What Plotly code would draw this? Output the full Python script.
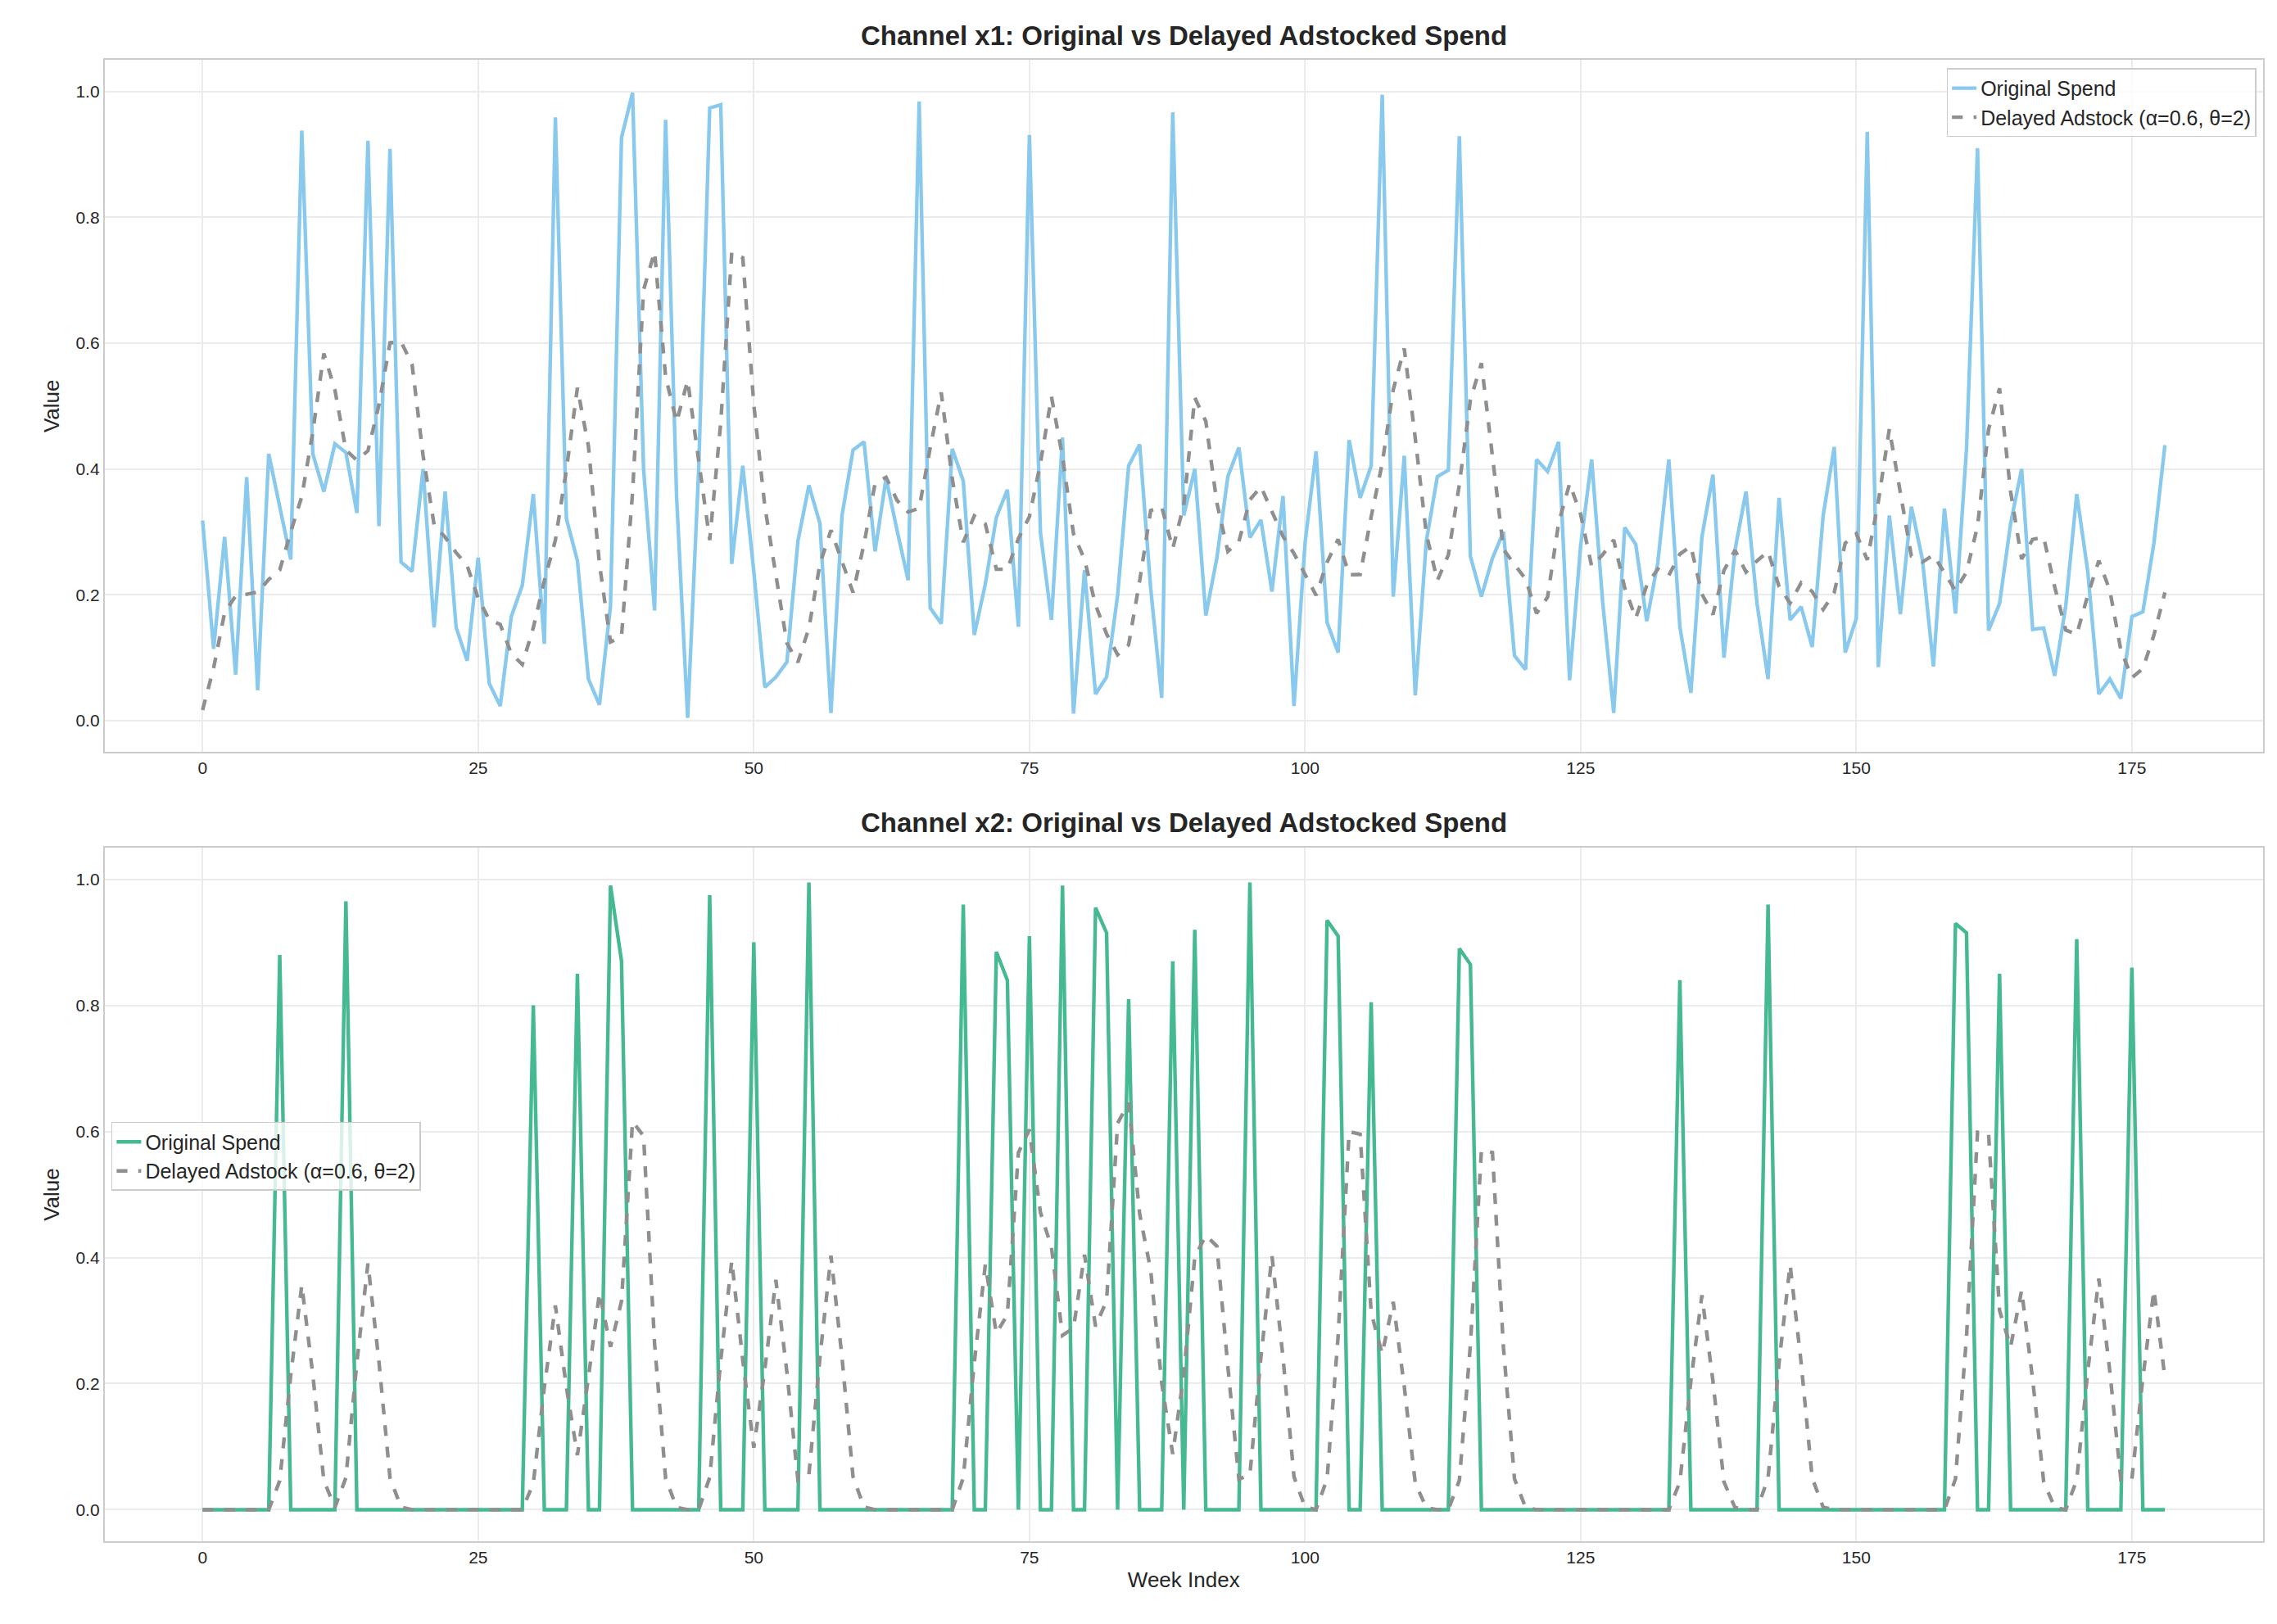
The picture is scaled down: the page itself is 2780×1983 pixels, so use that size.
import numpy as np
import plotly.graph_objects as go

## data ----
weeks = list(range(179))

x1_spend = [
    0.318, 0.114, 0.292, 0.073, 0.387, 0.048, 0.424, 0.340, 0.256, 0.938,
    0.424, 0.364, 0.440, 0.426, 0.330, 0.922, 0.309, 0.909, 0.252, 0.237,
    0.400, 0.148, 0.364, 0.148, 0.095, 0.259, 0.059, 0.023, 0.165, 0.215,
    0.360, 0.122, 0.959, 0.321, 0.254, 0.066, 0.025, 0.182, 0.927, 0.998,
    0.400, 0.175, 0.955, 0.354, 0.004, 0.400, 0.974, 0.979, 0.249, 0.405,
    0.237, 0.053, 0.069, 0.093, 0.285, 0.374, 0.313, 0.012, 0.326, 0.430,
    0.443, 0.269, 0.385, 0.302, 0.223, 0.984, 0.179, 0.154, 0.432, 0.381,
    0.136, 0.217, 0.323, 0.367, 0.149, 0.931, 0.299, 0.160, 0.450, 0.011,
    0.239, 0.042, 0.069, 0.199, 0.405, 0.439, 0.210, 0.036, 0.967, 0.326,
    0.400, 0.167, 0.258, 0.388, 0.434, 0.291, 0.319, 0.205, 0.357, 0.023,
    0.282, 0.428, 0.156, 0.108, 0.446, 0.354, 0.405, 0.995, 0.197, 0.421,
    0.040, 0.285, 0.388, 0.398, 0.929, 0.261, 0.197, 0.258, 0.300, 0.103,
    0.081, 0.415, 0.396, 0.443, 0.064, 0.278, 0.415, 0.188, 0.012, 0.307,
    0.280, 0.158, 0.251, 0.415, 0.149, 0.044, 0.292, 0.391, 0.100, 0.271,
    0.364, 0.186, 0.066, 0.354, 0.160, 0.181, 0.117, 0.326, 0.435, 0.108,
    0.162, 0.936, 0.085, 0.326, 0.169, 0.340, 0.256, 0.086, 0.337, 0.170,
    0.432, 0.910, 0.143, 0.186, 0.313, 0.400, 0.145, 0.147, 0.071, 0.182,
    0.360, 0.237, 0.042, 0.066, 0.035, 0.165, 0.173, 0.282, 0.438,
]

# x2 is zero except for these weeks
x2_spike_weeks = [7, 13, 30, 34, 37, 38, 46, 50, 55, 69, 72, 73, 75, 78, 81, 82,
                  84, 88, 90, 95, 102, 103, 106, 114, 115, 134, 142, 159, 160,
                  163, 170, 175]
x2_spike_values = [0.88, 0.965, 0.80, 0.85, 0.99, 0.87, 0.975, 0.90, 0.995, 0.96,
                   0.885, 0.84, 0.91, 0.99, 0.955, 0.915, 0.81, 0.87, 0.92, 0.995,
                   0.935, 0.91, 0.805, 0.89, 0.865, 0.84, 0.96, 0.93, 0.915,
                   0.85, 0.905, 0.86]

x2_spend = [0.0] * len(weeks)
for w, v in zip(x2_spike_weeks, x2_spike_values):
    x2_spend[w] = v

alpha, theta, max_lag = 0.6, 2, 13


def delayed_adstock(x):
    # weighted delayed adstock, weights normalised
    x = np.asarray(x)
    w = alpha ** ((np.arange(max_lag) - theta) ** 2)
    out = np.zeros(len(x))
    for t in range(len(x)):
        for l in range(max_lag):
            if t - l >= 0:
                out[t] += w[l] * x[t - l]
    return out / w.sum()


x1_ad = delayed_adstock(x1_spend)
x2_ad = delayed_adstock(x2_spend)

### chart ----
W, H = 2780, 1983
font = 'Liberation Sans, Arial, sans-serif'
fig = go.Figure()

panels = [
    ('x1', x1_spend, x1_ad, '#89C9EE', 'x', 'y', 'legend'),
    ('x2', x2_spend, x2_ad, '#45B991', 'x2', 'y2', 'legend2'),
]
for name, spend, ad, color, xa, ya, lg in panels:
    fig.add_trace(go.Scatter(x=weeks, y=spend, mode='lines', name='Original Spend',
                             line=dict(color=color, width=4.4), xaxis=xa, yaxis=ya, legend=lg))
    fig.add_trace(go.Scatter(x=weeks, y=ad, mode='lines',
                             name='Delayed Adstock (α=0.6, θ=2)',
                             line=dict(color='#8F8F8F', width=4.4, dash='dash'),
                             xaxis=xa, yaxis=ya, legend=lg))

axis_style = dict(
    showgrid=True, gridcolor='#EBEBEB', gridwidth=1.5,
    showline=True, linecolor='#CCCCCC', linewidth=1.5, mirror=True,
    zeroline=False, ticks='', tickfont=dict(family=font, size=21, color='#262626'),
)

fig.update_layout(
    width=W, height=H,
    paper_bgcolor='white', plot_bgcolor='white',
    margin=dict(l=0, r=0, t=0, b=0),
    showlegend=True,
    xaxis=dict(**axis_style, domain=[0.043, 0.991], range=[-8.9, 186.9], dtick=25, anchor='y'),
    yaxis=dict(**axis_style, domain=[0.541, 0.967], range=[-0.05, 1.05], dtick=0.2,
               tickformat='.1f', anchor='x',
               title=dict(text='Value', font=dict(family=font, size=26, color='#262626'), standoff=12)),
    xaxis2=dict(**axis_style, domain=[0.043, 0.991], range=[-8.9, 186.9], dtick=25, anchor='y2',
                title=dict(text='Week Index', font=dict(family=font, size=26, color='#262626'), standoff=8)),
    yaxis2=dict(**axis_style, domain=[0.055, 0.482], range=[-0.05, 1.05], dtick=0.2,
                tickformat='.1f', anchor='x2',
                title=dict(text='Value', font=dict(family=font, size=26, color='#262626'), standoff=12)),
    legend=dict(x=0.988, y=0.962, xanchor='right', yanchor='top',
                bgcolor='rgba(255,255,255,0.8)', bordercolor='#CCCCCC', borderwidth=1.5,
                font=dict(family=font, size=25, color='#262626')),
    legend2=dict(x=0.046, y=0.292, xanchor='left', yanchor='middle',
                 bgcolor='rgba(255,255,255,0.8)', bordercolor='#CCCCCC', borderwidth=1.5,
                 font=dict(family=font, size=25, color='#262626')),
    annotations=[
        dict(text='<b>Channel x1: Original vs Delayed Adstocked Spend</b>', x=0.517, y=0.972,
             xref='paper', yref='paper', xanchor='center', yanchor='bottom', showarrow=False,
             font=dict(family=font, size=33, color='#262626')),
        dict(text='<b>Channel x2: Original vs Delayed Adstocked Spend</b>', x=0.517, y=0.487,
             xref='paper', yref='paper', xanchor='center', yanchor='bottom', showarrow=False,
             font=dict(family=font, size=33, color='#262626')),
    ],
)

fig.write_html("out.html")
